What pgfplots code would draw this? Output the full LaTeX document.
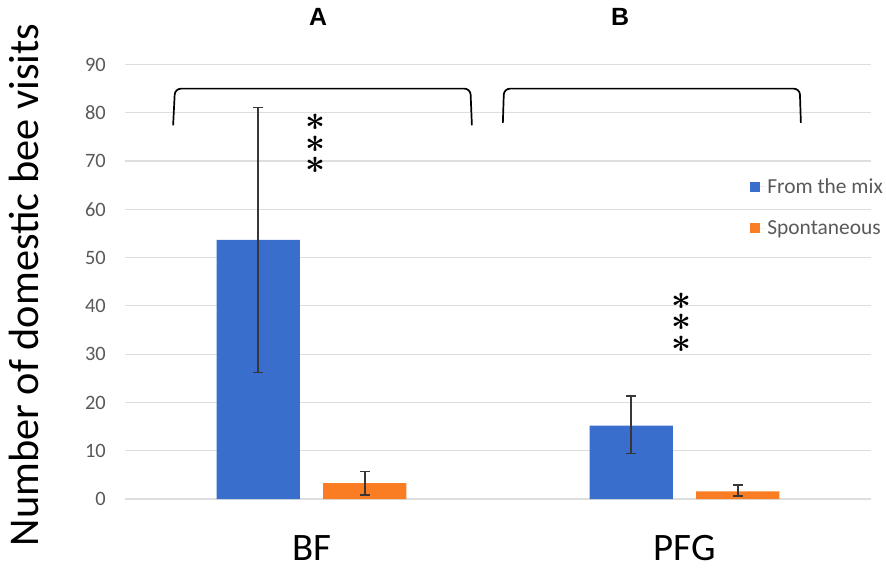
\documentclass[border=0pt]{standalone}
\usepackage{pgfplots}
\pgfplotsset{compat=1.18}
\usepackage{graphicx}
\usepackage{fontspec}
\setmainfont{Carlito}
\newfontfamily\arialfont{Liberation Sans}
\definecolor{barblue}{RGB}{58,110,204}
\definecolor{barorange}{RGB}{250,125,35}
\definecolor{tickgray}{RGB}{89,89,89}
\definecolor{gridgray}{RGB}{222,222,222}
\definecolor{errgray}{RGB}{55,55,55}
\newcommand{\bigast}{\scalebox{1.4}{\boldmath$\ast$}}
\tikzset{stars/.style={inner sep=0pt, align=center, font=\fontsize{40}{21.5}\selectfont}}
\begin{document}
\begin{tikzpicture}
\begin{axis}[
  at={(125bp,76bp)}, anchor=south west,
  scale only axis, width=746bp, height=434.5bp,
  xmin=-0.5, xmax=1.5, ymin=0, ymax=90,
  ytick={0,10,...,90},
  xtick={0,1}, xticklabels={BF,PFG},
  axis line style={draw=none},
  major tick length=0pt,
  ymajorgrids, major grid style={gridgray, line width=1.2bp},
  /pgf/number format/assume math mode=true,
  yticklabel style={font=\fontsize{20.5}{24}\selectfont, text=tickgray, anchor=east, inner sep=0pt, xshift=-19bp},
  xticklabel style={font=\fontsize{39}{44}\selectfont, text=black, anchor=north, inner sep=0pt, yshift=-36bp},
  ybar, bar width=83.3bp,
  clip=false,
  legend style={at={(0.838,0.743)}, anchor=north west, draw=none, fill=none,
    font=\fontsize{21.5}{24}\selectfont, text=tickgray, row sep=22bp, inner sep=0pt},
  legend cell align=left,
  legend image code/.code={\path (0bp,0bp) -- (15bp,0bp); \fill[#1] (0bp,-5bp) rectangle (10bp,5bp);},
  error bars/y dir=both, error bars/y explicit,
  error bars/error bar style={line width=1.7bp, errgray},
  error bars/error mark options={rotate=90, mark size=5bp, line width=1.7bp, errgray},
]
\addplot[fill=barblue, draw=none, bar shift=-53.3bp] coordinates {
  (0,53.7) += (0,27.4) -= (0,27.5)
  (1,15.2) += (0,6.2) -= (0,5.8)
};
\addlegendentry{From the mix}
\addplot[fill=barorange, draw=none, bar shift=53.3bp] coordinates {
  (0,3.3) += (0,2.4) -= (0,2.5)
  (1,1.6) += (0,1.3) -= (0,1.0)
};
\addlegendentry{Spontaneous}
% brackets
\draw[line width=1.7bp, rounded corners=6bp] (axis cs:-0.371,77.4) -- (axis cs:-0.366,85) -- (axis cs:0.426,85) -- (axis cs:0.430,77.4);
\draw[line width=1.7bp, rounded corners=6bp] (axis cs:0.513,77.9) -- (axis cs:0.516,85) -- (axis cs:1.309,85) -- (axis cs:1.312,77.9);
% significance stars
\node[stars] at (axis cs:0.0094,73.5) {\bigast\\\bigast\\\bigast};
\node[stars] at (axis cs:0.9906,36.5) {\bigast\\\bigast\\\bigast};
\end{axis}
\node[font=\arialfont\bfseries\fontsize{25}{30}\selectfont] at (318bp,558bp) {A};
\node[font=\arialfont\bfseries\fontsize{25}{30}\selectfont] at (620bp,558bp) {B};
\node[rotate=90, font=\fontsize{42.5}{50}\selectfont, inner sep=0pt] at (24bp,290bp) {Number of domestic bee visits};
\pgfresetboundingbox
\path (0,0) rectangle (886bp,575bp);
\end{tikzpicture}
\end{document}
